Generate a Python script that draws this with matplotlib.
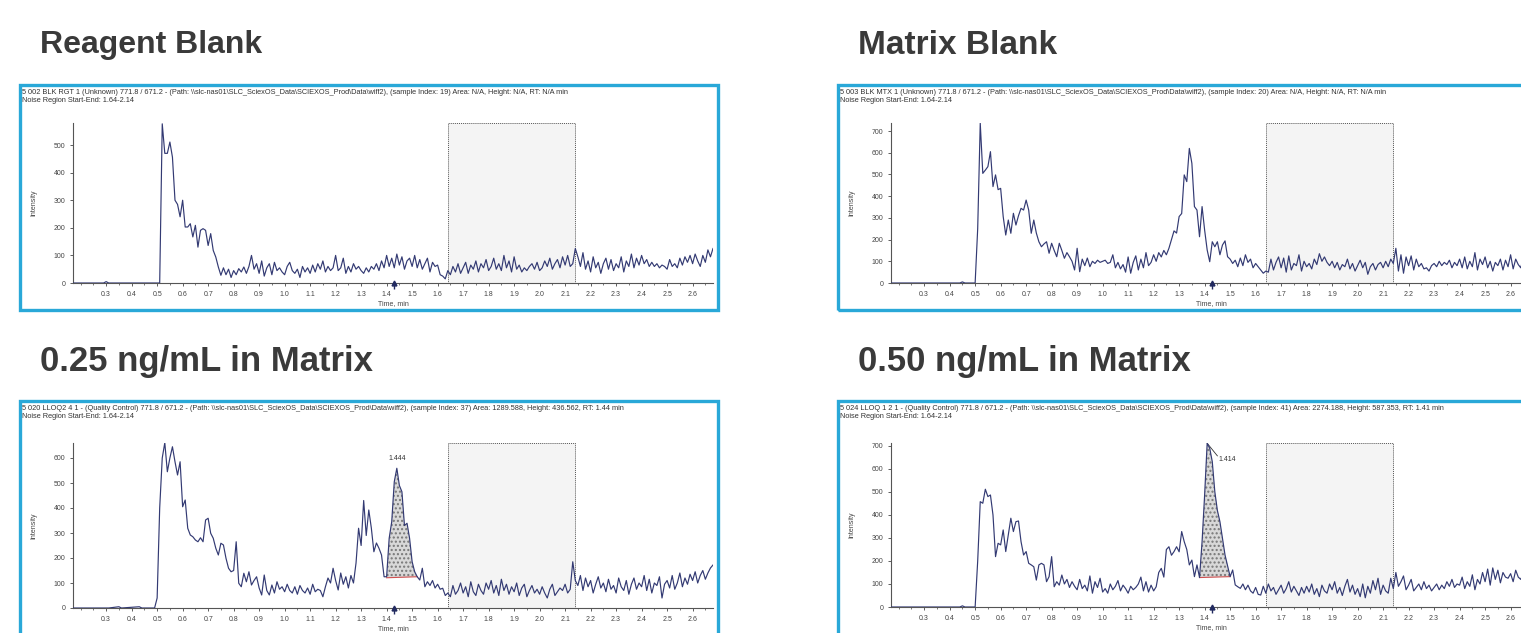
import numpy as np
import matplotlib
matplotlib.use("Agg")
import matplotlib.pyplot as plt
from matplotlib.patches import Rectangle

W, H = 1521, 633

# ---- data: intensity sampled every 0.01 min from 0.50 to 2.68 ----
pre_time = [0.17, 0.29, 0.30, 0.31, 0.35, 0.36, 0.43, 0.44, 0.45, 0.46, 0.49]

pre_reagent = [0, 0, 5, 0, 0, 0, 0, 0, 0, 0, 0]
reagent_blank = [
    0, 0, 577, 470, 470, 511, 456, 300, 285, 240,
    300, 203, 203, 215, 167, 209, 130, 191, 197, 191,
    136, 179, 118, 94, 58, 28, 55, 30, 50, 20,
    45, 30, 52, 40, 58, 35, 60, 100, 50, 70,
    35, 80, 25, 55, 70, 30, 75, 45, 55, 40,
    30, 60, 75, 45, 35, 50, 20, 60, 40, 55,
    35, 65, 40, 70, 50, 80, 40, 60, 45, 55,
    100, 45, 55, 90, 35, 60, 40, 70, 50, 60,
    45, 35, 55, 40, 60, 50, 70, 45, 80, 55,
    100, 60, 90, 55, 105, 65, 95, 50, 80, 90,
    60, 100, 55, 85, 50, 70, 90, 40, 75, 60,
    65, 30, 25, 15, 45, 30, 60, 40, 70, 35,
    55, 75, 35, 65, 50, 80, 40, 70, 55, 85,
    45, 60, 90, 50, 70, 45, 100, 55, 80, 40,
    95, 50, 65, 40, 55, 45, 60, 70, 50, 75,
    45, 55, 80, 60, 90, 50, 70, 85, 55, 95,
    65, 100, 60, 70, 125, 95, 60, 110, 50, 80,
    40, 95, 55, 75, 35, 70, 90, 50, 85, 45,
    70, 55, 95, 40, 80, 60, 105, 55, 90, 65,
    100, 70, 85, 60, 75, 60, 70, 55, 65, 60,
    50, 85, 60, 70, 55, 90, 65, 95, 75, 100,
    70, 105, 80, 60, 100, 75, 120, 95, 125,
]

pre_matrix = [0, 0, 0, 0, 0, 0, 0, 0, 5, 0, 0]
matrix_blank = [
    0, 250, 736, 505, 520, 536, 605, 444, 498, 430,
    436, 306, 221, 290, 229, 321, 267, 310, 344, 336,
    382, 336, 229, 290, 230, 190, 167, 180, 190, 137,
    183, 150, 121, 183, 150, 114, 140, 121, 100, 60,
    160, 52, 110, 80, 115, 75, 100, 90, 105, 95,
    100, 105, 90, 95, 130, 70, 95, 65, 85, 50,
    120, 45, 95, 125, 60, 110, 70, 140, 80, 95,
    130, 100, 140, 120, 150, 130, 160, 200, 240, 230,
    306, 320, 498, 467, 620, 551, 352, 336, 213, 352,
    244, 152, 98, 190, 167, 190, 130, 175, 194, 121,
    110, 90, 105, 75, 115, 80, 130, 95, 110, 70,
    90, 75, 60, 45, 55, 50, 110, 60, 95, 120,
    70, 115, 50, 125, 60, 90, 80, 130, 55, 100,
    75, 90, 65, 110, 85, 135, 100, 120, 95, 80,
    100, 70, 95, 60, 85, 75, 110, 65, 90, 55,
    80, 105, 70, 95, 40, 75, 90, 60, 85, 95,
    70, 100, 75, 110, 90, 160, 55, 130, 45, 120,
    80, 125, 60, 110, 75, 90, 65, 70, 55, 80,
    90, 75, 100, 80, 95, 85, 105, 70, 95, 80,
    110, 70, 120, 65, 100, 75, 140, 60, 110, 85,
    120, 70, 100, 55, 95, 80, 110, 60, 105, 75,
    130, 65, 110, 85, 70, 120, 60, 100, 80,
]

pre_low = [0, 0, 0, 0, 5, 0, 5, 0, 0, 0, 0]
spike_025 = [
    40, 400, 600, 661, 545, 600, 645, 585, 532, 585,
    405, 432, 319, 292, 285, 272, 265, 281, 265, 352,
    359, 299, 279, 239, 212, 259, 252, 199, 159, 145,
    150, 265, 99, 85, 139, 105, 145, 92, 110, 125,
    80, 52, 132, 70, 52, 92, 60, 105, 75, 85,
    65, 95, 70, 60, 85, 55, 90, 70, 60, 80,
    55, 95, 65, 75, 70, 45, 85, 120, 100, 159,
    110, 72, 140, 95, 125, 80, 130, 100, 180, 319,
    250, 430, 290, 392, 320, 225, 260, 239, 212, 125,
    125, 279, 345, 505, 559, 490, 465, 330, 339, 279,
    185, 145, 125, 112, 159, 85, 105, 90, 110, 80,
    95, 75, 79, 50, 60, 45, 90, 55, 70, 100,
    60, 85, 45, 105, 65, 50, 95, 70, 55, 100,
    75, 110, 60, 90, 50, 115, 70, 95, 55, 85,
    65, 100, 50, 80, 95, 45, 70, 90, 60, 75,
    55, 85, 60, 40, 75, 95, 50, 65, 80, 70,
    95, 60, 75, 185, 110, 90, 130, 70, 120, 85,
    110, 60, 95, 125, 80, 100, 65, 115, 75, 90,
    60, 120, 85, 70, 110, 55, 95, 120, 75, 100,
    85, 130, 70, 115, 60, 100, 90, 125, 40, 95,
    110, 80, 130, 75, 100, 140, 85, 120, 95, 135,
    110, 145, 100, 130, 150, 115, 140, 160, 172,
]

pre_high = [0, 0, 0, 0, 0, 0, 0, 0, 5, 0, 0]
spike_050 = [
    0, 200, 458, 451, 512, 480, 487, 400, 219, 277,
    270, 335, 241, 313, 386, 328, 371, 374, 284, 226,
    241, 190, 183, 175, 117, 183, 190, 183, 110, 132,
    219, 88, 110, 95, 139, 100, 120, 85, 110, 90,
    75, 120, 80, 95, 70, 135, 60, 110, 85, 125,
    65, 80, 60, 100, 75, 90, 115, 70, 95, 80,
    60, 90, 75, 85, 100, 130, 70, 110, 65, 95,
    70, 88, 150, 168, 130, 250, 262, 225, 241, 262,
    240, 328, 284, 250, 183, 204, 132, 183, 128, 284,
    487, 712, 690, 632, 501, 420, 371, 299, 226, 180,
    132, 161, 96, 88, 81, 100, 75, 95, 70, 60,
    85, 55, 52, 90, 60, 100, 70, 85, 55, 75,
    95, 60, 80, 110, 65, 90, 70, 50, 85, 60,
    90, 65, 100, 55, 80, 45, 95, 70, 60, 100,
    75, 110, 60, 85, 50, 90, 120, 65, 95, 55,
    80, 45, 100, 40, 90, 60, 115, 75, 125, 55,
    95, 70, 60, 125, 80, 150, 90, 110, 135, 75,
    95, 120, 70, 85, 100, 75, 110, 80, 95, 70,
    85, 100, 75, 95, 80, 110, 90, 120, 85, 100,
    95, 130, 80, 110, 90, 140, 75, 120, 100, 150,
    110, 165, 95, 170, 120, 160, 105, 150, 130, 125,
    145, 110, 160, 130, 120, 150, 110, 140, 120,
]

titles = ["Reagent Blank", "Matrix Blank", "0.25 ng/mL in Matrix", "0.50 ng/mL in Matrix"]
headers = [
    "5 002 BLK RGT 1 (Unknown) 771.8 / 671.2 - (Path: \\\\slc-nas01\\SLC_SciexOS_Data\\SCIEXOS_Prod\\Data\\wiff2), (sample Index: 19) Area: N/A, Height: N/A, RT: N/A min",
    "5 003 BLK MTX 1 (Unknown) 771.8 / 671.2 - (Path: \\\\slc-nas01\\SLC_SciexOS_Data\\SCIEXOS_Prod\\Data\\wiff2), (sample Index: 20) Area: N/A, Height: N/A, RT: N/A min",
    "5 020 LLOQ2 4 1 - (Quality Control) 771.8 / 671.2 - (Path: \\\\slc-nas01\\SLC_SciexOS_Data\\SCIEXOS_Prod\\Data\\wiff2), (sample Index: 37) Area: 1289.588, Height: 436.562, RT: 1.44 min",
    "5 024 LLOQ 1 2 1 - (Quality Control) 771.8 / 671.2 - (Path: \\\\slc-nas01\\SLC_SciexOS_Data\\SCIEXOS_Prod\\Data\\wiff2), (sample Index: 41) Area: 2274.188, Height: 587.353, RT: 1.41 min",
]
noise_text = "Noise Region Start-End: 1.64-2.14"
noise_region = (1.64, 2.14)
y_max = [580, 737, 660, 713]
y_ticks_top = [500, 700, 600, 700]
# integrated peaks: (start, end, baseline start, baseline end, rt label)
peaks = [None, None, (1.40, 1.52, 121, 125, "1.444"), (1.38, 1.50, 128, 132, "1.414")]

pre_lists = [pre_reagent, pre_matrix, pre_low, pre_high]
traces = [reagent_blank, matrix_blank, spike_025, spike_050]

# ---- layout (pixel positions) ----
panel_x = [20, 838, 20, 838]          # cyan frame left edge
frame_top = [85, 85, 401, 401]
frame_h = [225, 225, 260, 260]        # bottom frames run off the image
axes_left = [73, 891, 73, 891]
axes_bottom = [283, 283, 608, 607]
axes_top = [123, 123, 443, 443]
title_y = [45, 45, 362, 362]
title_size = [23, 24, 25, 25]

line_color = "#333a73"
frame_color = "#29a8d8"

plt.rcParams["font.family"] = ["Liberation Sans", "DejaVu Sans"]
fig = plt.figure(figsize=(W / 100, H / 100), dpi=100)
fig.patch.set_facecolor("white")


def fx(px):
    return px / W


def fy(py):
    return 1 - py / H


for i in range(4):
    t = np.concatenate([pre_time, np.round(np.arange(0.50, 2.685, 0.01), 2)])
    y = np.array(pre_lists[i] + traces[i], dtype=float)

    # titles and frames
    fig.text(fx(panel_x[i] + 20), fy(title_y[i]), titles[i], fontsize=title_size[i],
             fontweight="bold", color="#3a3a3a", va="center", ha="left")
    fig.add_artist(Rectangle((fx(panel_x[i]), fy(frame_top[i] + frame_h[i])), 698 / W,
                             frame_h[i] / H, transform=fig.transFigure, fill=False,
                             edgecolor=frame_color, lw=2.4, clip_on=False))
    fig.text(fx(panel_x[i] + 2), fy(frame_top[i] + 8), headers[i], fontsize=5.3,
             color="#333333", va="center", ha="left")
    fig.text(fx(panel_x[i] + 2), fy(frame_top[i] + 16), noise_text, fontsize=5.3,
             color="#333333", va="center", ha="left")

    ax = fig.add_axes([fx(axes_left[i]), fy(axes_bottom[i]), 640 / W,
                       (axes_bottom[i] - axes_top[i]) / H])
    ax.set_xlim(0.17, 2.68)
    ax.set_ylim(0, y_max[i])

    ax.axvspan(noise_region[0], noise_region[1], facecolor="#f4f4f4",
               edgecolor="#555555", ls=(0, (1, 1)), lw=0.7, zorder=0)

    if peaks[i] is not None:
        s, e, b0, b1, lab = peaks[i]
        m = (t >= s - 1e-9) & (t <= e + 1e-9)
        base = np.interp(t[m], [s, e], [b0, b1])
        ax.fill_between(t[m], base, y[m], facecolor="#d8d8d8", edgecolor="#777777",
                        hatch="....", lw=0, zorder=1)
        ax.plot([s, e], [b0, b1], color="#d05050", lw=0.8, zorder=2)
        top = t[m][np.argmax(y[m])]
        ymax_pk = y[m].max()
        if i == 2:
            ax.text(top, ymax_pk + 25, lab, fontsize=5, ha="center", va="bottom", color="#333")
        else:
            ax.plot([top, top + 0.04], [ymax_pk, ymax_pk - 55], color="#333", lw=0.6)
            ax.text(top + 0.045, ymax_pk - 70, lab, fontsize=5, ha="left", va="center", color="#333")

    ax.plot(t, y, color=line_color, lw=0.85, zorder=3)

    # retention time marker under the axis
    ax.plot([1.43], [0], marker="^", ms=3.5, color="#222a60", clip_on=False,
            transform=ax.get_xaxis_transform(), zorder=5)
    ax.plot([1.43], [-0.025], marker="|", ms=3, color="#222a60", clip_on=False,
            transform=ax.get_xaxis_transform(), zorder=5)

    for sp in ["top", "right"]:
        ax.spines[sp].set_visible(False)
    for sp in ["left", "bottom"]:
        ax.spines[sp].set_color("#555555")
        ax.spines[sp].set_linewidth(0.8)
    ax.set_xticks(np.round(np.arange(0.3, 2.65, 0.1), 1))
    ax.set_xticks(np.round(np.arange(0.2, 2.7, 0.05), 2), minor=True)
    ax.set_yticks(np.arange(0, y_ticks_top[i] + 1, 100))
    ax.tick_params(axis="both", labelsize=5, colors="#444444", length=2.5, width=0.6, pad=3)
    ax.tick_params(axis="x", which="minor", length=1.5, width=0.5, colors="#444444")
    ax.set_xlabel("Time, min", fontsize=5, color="#444444", labelpad=2)
    ax.set_ylabel("Intensity", fontsize=5, color="#444444", labelpad=12)
    ax.set_facecolor("none")

fig.savefig("out.png", dpi=100)
